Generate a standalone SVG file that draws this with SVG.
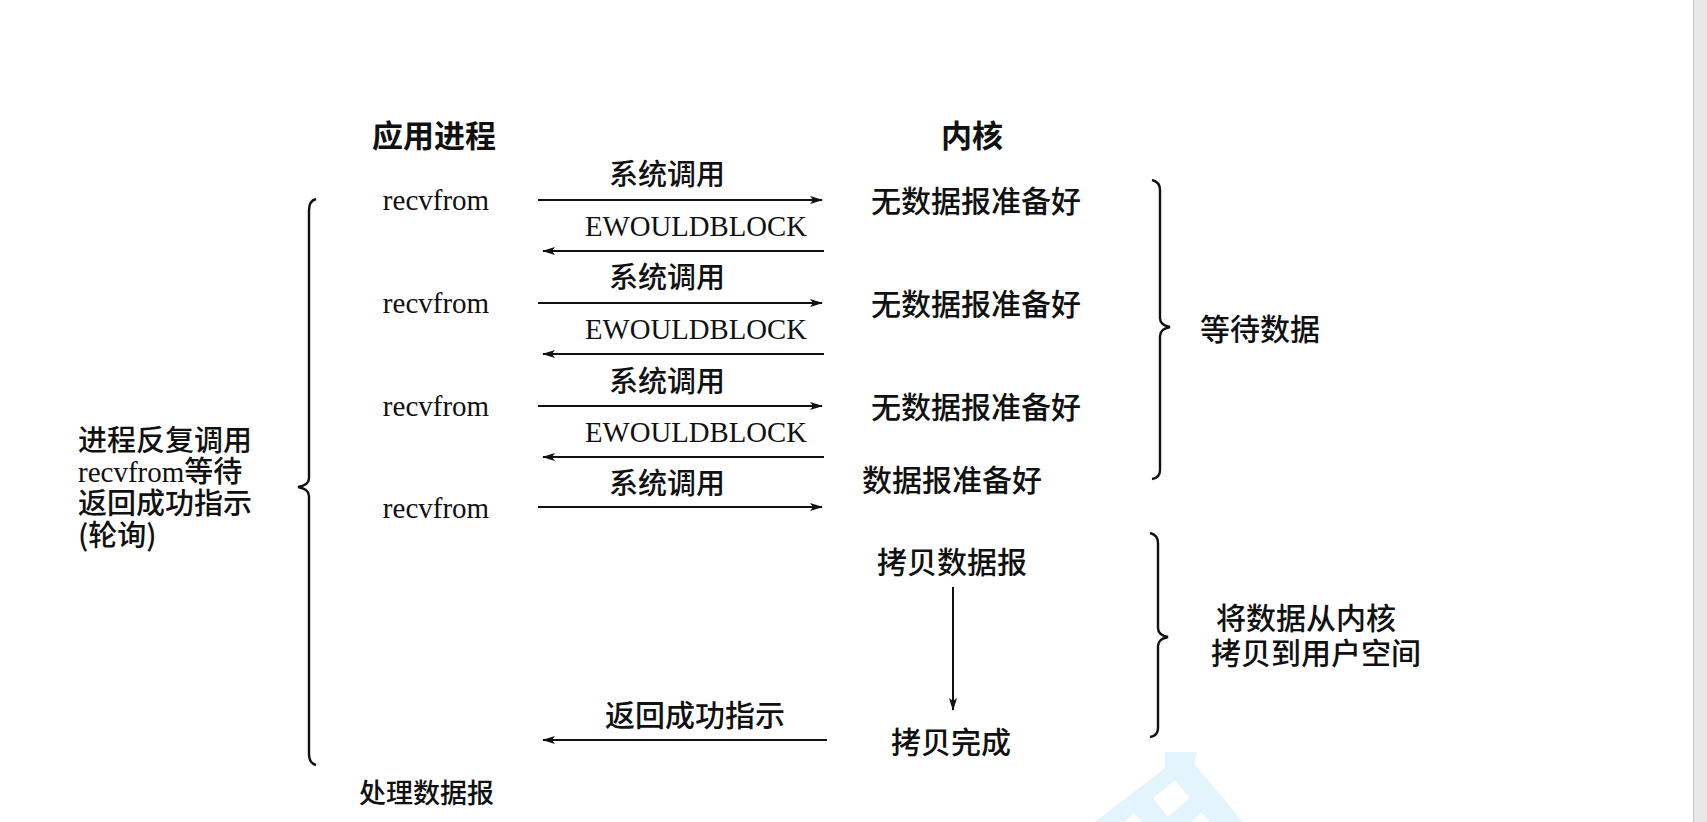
<svg xmlns="http://www.w3.org/2000/svg" width="1707" height="822" viewBox="0 0 1707 822">
<defs>
<marker id="ah" markerWidth="13" markerHeight="8" refX="12" refY="4" orient="auto" markerUnits="userSpaceOnUse">
<path d="M0,0 L13,4 L0,8 L3,4 z" fill="#111"/>
</marker>
<style>
.cn{font-family:"Noto Sans CJK SC","Noto Sans CJK TC",sans-serif;font-weight:500;fill:#111;}
.hd{font-family:"Noto Sans CJK SC",sans-serif;font-weight:bold;font-size:31px;fill:#111;}
.lat{font-family:"Liberation Serif",serif;fill:#111;}
.m{text-anchor:middle;}
.ln{stroke:#111;stroke-width:2;fill:none;}
.br{stroke:#111;stroke-width:2.4;fill:none;}
</style>
</defs>
<rect width="1707" height="822" fill="#ffffff"/>
<rect x="1693" y="0" width="14" height="822" fill="#e8e8e8"/>
<line x1="1693.5" y1="0" x2="1693.5" y2="822" stroke="#c4c4c4" stroke-width="1"/>

<g id="watermark">
<path d="M1165,752 L1197,752 L1194,764 L1243,822 L1095,822 L1165,768 z" fill="#e3f4fc"/>
<path d="M1175,780 L1190,798 L1168,817 L1153,798 z" fill="#ffffff"/>
<path d="M1124,822 L1134,813 L1142,822 z" fill="#ffffff"/>
<path d="M1192,822 L1201,812 L1210,822 z" fill="#ffffff"/>
</g>

<g id="headers">
<text id="app-header" class="hd m" x="434" y="147">应用进程</text>
<text id="kernel-header" class="hd m" x="972" y="147">内核</text>
</g>

<g id="app-column">
<text class="lat m" x="436" y="210" font-size="29">recvfrom</text>
<text class="lat m" x="436" y="313" font-size="29">recvfrom</text>
<text class="lat m" x="436" y="416" font-size="29">recvfrom</text>
<text class="lat m" x="436" y="518" font-size="29">recvfrom</text>
<text class="cn" x="359" y="803" font-size="27">处理数据报</text>
</g>

<g id="kernel-column">
<text class="cn m" x="976" y="212" font-size="30">无数据报准备好</text>
<text class="cn m" x="976" y="315" font-size="30">无数据报准备好</text>
<text class="cn m" x="976" y="418" font-size="30">无数据报准备好</text>
<text class="cn m" x="952" y="491" font-size="30">数据报准备好</text>
<text class="cn m" x="952" y="573" font-size="30">拷贝数据报</text>
<text class="cn m" x="951" y="753" font-size="30">拷贝完成</text>
</g>

<g id="labels">
<text class="cn m" x="667" y="185" font-size="29">系统调用</text>
<text class="cn m" x="667" y="288" font-size="29">系统调用</text>
<text class="cn m" x="667" y="392" font-size="29">系统调用</text>
<text class="cn m" x="667" y="494" font-size="29">系统调用</text>
<text class="lat m" x="696" y="236" font-size="29" textLength="222" lengthAdjust="spacingAndGlyphs">EWOULDBLOCK</text>
<text class="lat m" x="696" y="339" font-size="29" textLength="222" lengthAdjust="spacingAndGlyphs">EWOULDBLOCK</text>
<text class="lat m" x="696" y="442" font-size="29" textLength="222" lengthAdjust="spacingAndGlyphs">EWOULDBLOCK</text>
<text class="cn m" x="695" y="726" font-size="30">返回成功指示</text>
</g>

<g id="left-note">
<text class="cn" x="78" y="451" font-size="29">进程反复调用</text>
<text x="78" y="482" font-size="29"><tspan class="lat">recvfrom</tspan><tspan class="cn">等待</tspan></text>
<text class="cn" x="78" y="514" font-size="29">返回成功指示</text>
<text class="cn" x="78" y="546" font-size="29">(轮询)</text>
</g>

<g id="right-notes">
<text class="cn m" x="1260" y="340" font-size="30">等待数据</text>
<text class="cn m" x="1306" y="629" font-size="30">将数据从内核</text>
<text class="cn m" x="1316" y="664" font-size="30">拷贝到用户空间</text>
</g>

<g id="braces">
<path class="br" d="M316,199 Q309,201 309,210 L309,478 Q309,485 298,487 Q309,489 309,496 L309,754 Q309,763 316,765"/>
<path class="br" d="M1152,180 Q1160,182 1160,190 L1160,318 Q1160,325 1170,327 Q1160,329 1160,336 L1160,470 Q1160,478 1152,479"/>
<path class="br" d="M1150,533 Q1158,535 1158,543 L1158,628 Q1158,635 1168,637 Q1158,639 1158,646 L1158,728 Q1158,736 1150,737"/>
</g>

<g id="connectors">
<line class="ln" x1="538" y1="200" x2="822" y2="200" marker-end="url(#ah)"/>
<line class="ln" x1="824" y1="251" x2="543" y2="251" marker-end="url(#ah)"/>
<line class="ln" x1="538" y1="303" x2="822" y2="303" marker-end="url(#ah)"/>
<line class="ln" x1="824" y1="354" x2="543" y2="354" marker-end="url(#ah)"/>
<line class="ln" x1="538" y1="406" x2="822" y2="406" marker-end="url(#ah)"/>
<line class="ln" x1="824" y1="457" x2="543" y2="457" marker-end="url(#ah)"/>
<line class="ln" x1="538" y1="507" x2="822" y2="507" marker-end="url(#ah)"/>
<line class="ln" x1="953" y1="587" x2="953" y2="710" marker-end="url(#ah)"/>
<line class="ln" x1="827" y1="740" x2="543" y2="740" marker-end="url(#ah)"/>
</g>
</svg>
